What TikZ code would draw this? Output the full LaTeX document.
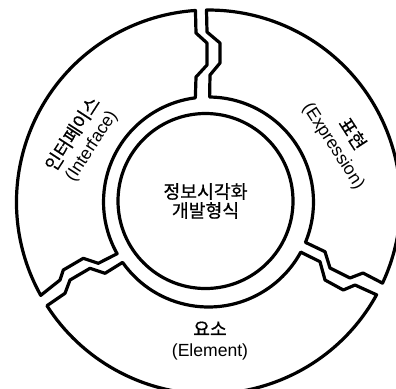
\documentclass[tikz,border=0pt]{standalone}
\usepackage{fontspec}
\setmainfont{Liberation Sans}
\newfontfamily\kr{Noto Sans CJK KR}[FakeBold=0.6]
\usetikzlibrary{calc}
\newcommand\krtext[1]{{\fontsize{26}{30}\selectfont\kr #1}}
\begin{document}
\begin{tikzpicture}[x=0.5mm,y=0.5mm,
  ringpart/.style={draw=black, line width=1.6mm, line join=round},
  lbl/.style={align=center, font=\fontsize{25}{30}\selectfont, inner sep=0pt}]
\useasboundingbox (0,0) rectangle (396,-388);
\clip (0,0) rectangle (396,-388);
\coordinate (C) at (208.5,-202);

% left segment: interface
\draw[ringpart] ($(C)+(93.9:192)$) -- (196,-33) -- (207,-43) -- (207,-65) -- (196,-77)
  -- ($(C)+(97.2:105)$) arc[start angle=97.2, end angle=209.5, radius=105]
  -- (98.3,-263.3) -- (83.3,-258.3) -- (63.3,-270) -- (60,-280)
  -- ($(C)+(209.1:192)$) arc[start angle=209.1, end angle=93.9, radius=192] -- cycle;

% right segment: expression
\draw[ringpart] ($(C)+(90.6:192)$) -- (207,-32) -- (220,-43) -- (220,-63) -- (210,-75)
  -- ($(C)+(89.4:105)$) arc[start angle=89.4, end angle=-22.6, radius=105]
  -- (325,-251.7) -- (330,-268) -- (350,-278) -- (363,-273)
  -- ($(C)+(-25:192)$) arc[start angle=-25, end angle=90.6, radius=192] -- cycle;

% bottom segment: element
\draw[ringpart] ($(C)+(-28.5:105)$) -- (320,-261.7) -- (325,-280) -- (343.3,-290) -- (355,-285)
  -- ($(C)+(-28.9:192)$) arc[start angle=-28.9, end angle=-147.3, radius=192]
  -- (65,-293.3) -- (70,-280) -- (90,-268.3) -- (105,-273.3)
  -- ($(C)+(-144.9:105)$) arc[start angle=-144.9, end angle=-28.5, radius=105] -- cycle;

% core circle
\node[circle, draw=black, line width=1.6mm, minimum size=87.5mm, align=center,
  font=\fontsize{26}{27}\selectfont] (core) at (205.5,-201) {\kr 정보시각화\\\kr 개발형식};

% segment labels
\node[lbl, rotate=57] (iface) at (82,-140) {\krtext{인터페이스}\\(Interface)};
\node[lbl, rotate=-57] (expr) at (343,-140) {\krtext{표현}\\(Expression)};
\node[lbl] (elem) at (210,-341) {\krtext{요소}\\(Element)};
\end{tikzpicture}
\end{document}
